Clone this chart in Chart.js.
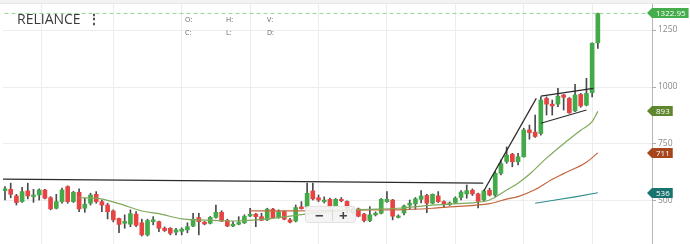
<!DOCTYPE html>
<html>
<head>
<meta charset="utf-8">
<script src="https://cdn.jsdelivr.net/npm/chart.js@4.4.0/dist/chart.umd.min.js"></script>
<style>
  html, body { margin: 0; padding: 0; background: #fff; }
  #wrap { position: relative; width: 690px; height: 244px; overflow: hidden; font-family: "Open Sans", sans-serif; }
  #topband { position: absolute; left: 0; top: 0; width: 690px; height: 3px; background: #f3f3f3; border-bottom: 1px solid #e6e6e6; }
  .title { position: absolute; left: 17px; top: 9px; font-size: 14px; color: #3a3a3a; line-height: 20px; }
  .title span { margin-left: 6px; font-weight: bold; color: #555; }
  .ohlc { position: absolute; font-size: 7px; color: #666; line-height: 13px; }
  .zoombox { position: absolute; left: 305px; top: 206px; width: 51px; height: 17px; background: rgba(243,243,243,0.9);
             border: 1px solid #e2e2e2; border-radius: 3px; box-sizing: border-box; }
  .zoombox span { position: absolute; top: -2px; font-size: 15px; font-weight: bold; color: #444; }
  .zoombox .sep { position: absolute; left: 26px; top: 2px; width: 1px; height: 12px; background: #d8d8d8; }
</style>
</head>
<body>
<div id="wrap">
  <canvas id="chart" width="690" height="244"></canvas>
  <div id="topband"></div>
  <div class="title">RELIANCE<span>⋮</span></div>
  <div class="ohlc" style="left:185px;top:13px">O:<br>C:</div>
  <div class="ohlc" style="left:226px;top:13px">H:<br>L:</div>
  <div class="ohlc" style="left:267px;top:13px">V:<br>D:</div>
  <div class="zoombox"><span style="left:9px">−</span><div class="sep"></div><span style="left:33px">+</span></div>
</div>
<script>
// weekly candles, oldest first
const opens = [545, 551, 522, 497, 544, 519, 526, 548, 514, 468, 497, 563, 497, 538, 468, 490, 529, 497, 482, 456,
  423, 402, 398, 442, 404, 351, 409, 409, 380, 380, 363, 367, 373, 390, 427, 407, 402, 428, 450, 414,
  390, 398, 404, 434, 442, 431, 417, 464, 427, 453, 417, 412, 474, 475, 544, 514, 497, 507, 478, 507,
  498, 449, 465, 442, 414, 439, 446, 497, 504, 428, 447, 482, 487, 507, 524, 490, 522, 497, 485, 493,
  515, 531, 547, 531, 504, 547, 526, 621, 673, 705, 672, 694, 812, 802, 796, 950, 925, 925, 965, 950,
  895, 968, 921, 975, 1194];
const highs = [563, 578, 529, 560, 578, 551, 553, 551, 519, 529, 556, 566, 542, 553, 512, 534, 541, 504, 490, 461,
  425, 439, 461, 453, 420, 420, 431, 412, 386, 383, 380, 382, 404, 446, 446, 410, 432, 482, 457, 420,
  409, 431, 439, 468, 446, 446, 468, 468, 461, 456, 424, 482, 497, 578, 578, 526, 518, 513, 511, 515,
  501, 469, 469, 446, 475, 452, 511, 541, 507, 439, 482, 504, 515, 546, 529, 531, 541, 501, 496, 518,
  545, 570, 553, 535, 548, 556, 629, 680, 737, 709, 709, 819, 833, 877, 957, 957, 943, 994, 968, 954,
  1012, 972, 1038, 1194, 1325];
const lows = [504, 514, 482, 494, 509, 494, 504, 509, 461, 465, 490, 490, 493, 453, 450, 482, 490, 453, 421, 408,
  361, 380, 387, 387, 346, 346, 395, 365, 366, 351, 351, 351, 360, 387, 351, 395, 399, 424, 409, 387,
  387, 395, 401, 431, 387, 414, 414, 424, 424, 417, 404, 408, 464, 472, 504, 497, 491, 469, 476, 496,
  447, 445, 430, 408, 409, 434, 443, 493, 417, 425, 439, 464, 464, 491, 449, 487, 493, 472, 480, 489,
  504, 512, 524, 469, 500, 522, 519, 614, 665, 650, 658, 692, 771, 779, 789, 877, 877, 914, 899, 884,
  892, 911, 917, 957, 1170];
const closes = [553, 529, 493, 541, 522, 526, 548, 512, 465, 497, 548, 497, 538, 465, 486, 526, 497, 482, 453, 417,
  397, 410, 444, 393, 351, 414, 417, 380, 370, 358, 373, 376, 387, 420, 409, 399, 428, 450, 412, 390,
  398, 405, 432, 442, 431, 415, 464, 427, 453, 420, 407, 471, 466, 534, 509, 504, 504, 476, 507, 501,
  469, 464, 433, 414, 439, 446, 507, 507, 433, 434, 478, 490, 509, 522, 490, 529, 497, 486, 491, 512,
  539, 545, 531, 498, 544, 526, 621, 664, 701, 672, 694, 811, 800, 783, 943, 925, 917, 960, 955, 887,
  965, 917, 972, 1192, 1322.95];

// moving averages, read at a few candle positions
const maGreenAt = [13, 16, 20, 24, 27, 31, 34, 40, 46, 52, 57, 62, 69, 75, 81, 85, 88, 90, 92, 95, 98, 101, 103, 104];
const maGreen = [514, 512, 488, 456, 444, 421, 417, 412, 421, 440, 454, 462, 468, 482, 490, 504, 548, 578, 617, 688, 751, 810, 848, 893];
const maBrownAt = [43, 50, 61, 69, 75, 78, 85, 88, 90, 93, 96, 98, 102, 104];
const maBrown = [456, 456, 460, 461, 468, 474, 488, 508, 519, 550, 595, 620, 670, 711];
const maTealAt = [93, 96, 100, 104];
const maTeal = [490, 502, 518, 536];

// hand drawn trend lines: [start, end] in candle index / price
const trendAt = [[-0.4, 83.9], [84, 93.2], [94, 103.2], [94, 102]];
const trendPrice = [[596, 578], [544, 950], [960, 994], [841, 899]];

const yTicks = [500, 750, 1000, 1250];
const xGrid = [13, 25, 37, 49, 61, 73, 85, 97, 109];

const green = '#43aa49';
const red = '#e84343';
const idx = closes.map((c, i) => i);
const last = closes.length - 1;

const pts = (xs, ys) => xs.map((x, k) => ({ x: x, y: ys[k] }));

const datasets = [
  {
    type: 'bar',
    data: idx.map(i => ({ x: i, y: [lows[i], highs[i]] })),
    backgroundColor: '#4a4a4a',
    barThickness: 1,
    grouped: false,
    order: 3
  },
  {
    type: 'bar',
    data: idx.map(i => ({ x: i, y: [opens[i], closes[i]] })),
    backgroundColor: idx.map(i => closes[i] >= opens[i] ? green : red),
    barThickness: 4,
    minBarLength: 1,
    grouped: false,
    order: 2
  },
  { type: 'line', data: pts(maGreenAt, maGreen), borderColor: '#7fa95a', borderWidth: 1.2, pointRadius: 0, cubicInterpolationMode: 'monotone', order: 1 },
  { type: 'line', data: pts(maBrownAt, maBrown), borderColor: '#c4653c', borderWidth: 1.2, pointRadius: 0, cubicInterpolationMode: 'monotone', order: 1 },
  { type: 'line', data: pts(maTealAt, maTeal), borderColor: '#2d8f8b', borderWidth: 1.2, pointRadius: 0, order: 1 },
  {
    type: 'line',
    data: [{ x: -5, y: closes[last] }, { x: 120, y: closes[last] }],
    borderColor: '#95d595', borderWidth: 1, borderDash: [4, 3], pointRadius: 0, order: 0
  }
];
trendAt.forEach((xs, k) => {
  datasets.push({ type: 'line', data: pts(xs, trendPrice[k]), borderColor: '#2a2a2a', borderWidth: 1.2, pointRadius: 0, order: 0 });
});

const tags = [
  { value: closes[last], text: closes[last].toFixed(2), color: '#45ad4b' },
  { value: maGreen[maGreen.length - 1], text: String(maGreen[maGreen.length - 1]), color: '#5e862e' },
  { value: maBrown[maBrown.length - 1], text: String(maBrown[maBrown.length - 1]), color: '#a6461d' },
  { value: maTeal[maTeal.length - 1], text: String(maTeal[maTeal.length - 1]), color: '#197470' }
];

const tagPlugin = {
  id: 'tags',
  afterDraw(chart) {
    const ctx = chart.ctx;
    const y = chart.scales.y;
    const x0 = y.left - 5;
    ctx.save();
    ctx.font = '8px "Open Sans", sans-serif';
    ctx.textBaseline = 'middle';
    tags.forEach(t => {
      const py = Math.round(y.getPixelForValue(t.value));
      const w = ctx.measureText(t.text).width;
      const x1 = x0 + 9 + w + 3;
      ctx.fillStyle = t.color;
      ctx.beginPath();
      ctx.moveTo(x0, py);
      ctx.lineTo(x0 + 5, py - 5);
      ctx.lineTo(x1, py - 5);
      ctx.lineTo(x1, py + 5);
      ctx.lineTo(x0 + 5, py + 5);
      ctx.closePath();
      ctx.fill();
      ctx.fillStyle = '#fff';
      ctx.fillText(t.text, x0 + 9, py + 0.5);
    });
    ctx.restore();
  }
};

Chart.defaults.font.family = '"Open Sans", sans-serif';

new Chart(document.getElementById('chart'), {
  data: { datasets: datasets },
  options: {
    responsive: false,
    animation: false,
    events: [],
    layout: { padding: { left: 3, right: 0, top: 0, bottom: 0 } },
    plugins: { legend: { display: false }, tooltip: { enabled: false } },
    scales: {
      x: {
        type: 'linear',
        min: -0.35,
        max: 113.5,
        offset: false,
        afterBuildTicks: s => { s.ticks = [s.min].concat(xGrid).map(v => ({ value: v })); },
        afterFit: s => { s.height = 0; s.paddingLeft = 0; s.paddingRight = 0; s.paddingTop = 0; s.paddingBottom = 0; },
        ticks: { display: false },
        grid: { color: '#ededed', drawTicks: false },
        border: { display: false }
      },
      y: {
        position: 'right',
        min: 311,
        max: 1382,
        afterBuildTicks: s => { s.ticks = yTicks.map(v => ({ value: v })); },
        afterFit: s => { s.width = 38; s.paddingTop = 0; s.paddingBottom = 0; s.paddingLeft = 0; s.paddingRight = 0; },
        ticks: { color: '#8a8a8a', font: { size: 8.5 }, padding: 2, callback: v => String(v) },
        grid: { color: '#ededed', tickLength: 4, tickColor: '#aaa' },
        border: { color: '#b5b5b5' }
      }
    }
  },
  plugins: [tagPlugin]
});
</script>
</body>
</html>
